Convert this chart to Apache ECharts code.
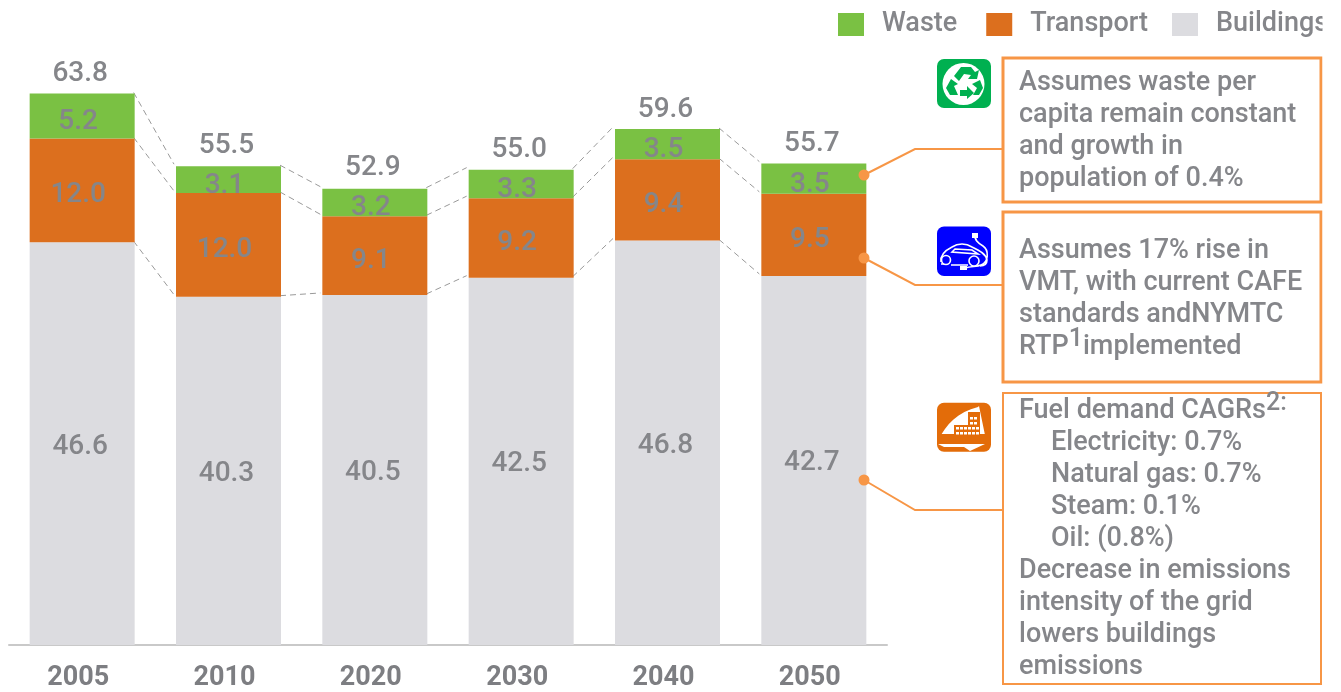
<!DOCTYPE html>
<html><head><meta charset="utf-8">
<style>html,body{margin:0;padding:0;background:#fff}#c{width:1341px;height:692px}</style>
<script src="https://cdn.jsdelivr.net/npm/echarts@6/dist/echarts.min.js"></script></head>
<body><div id="c"></div>
<script>
const categories = ['2005','2010','2020','2030','2040','2050'];
const buildings = [46.6,40.3,40.5,42.5,46.8,42.7];
const transport = [12.0,12.0,9.1,9.2,9.4,9.5];
const waste = [5.2,3.1,3.2,3.3,3.5,3.5];
const totals = [63.8,55.5,52.9,55.0,59.6,55.7];
const wasteNote = ['Assumes waste per','capita remain constant','and growth in','population of 0.4%'];
const transportNote = ['Assumes 17% rise in','VMT, with current CAFE','standards andNYMTC','RTP{s|1}implemented'];
const buildingsNote = ['Fuel demand CAGRs{s|2:}','>Electricity: 0.7%','>Natural gas: 0.7%','>Steam: 0.1%','>Oil: (0.8%)','Decrease in emissions','intensity of the grid','lowers buildings','emissions'];

const FONT='Roboto', TXT='#85868a', ORG='#f79646', BAR=105;
const fmt=v=>v.toFixed(1);
let shapeId=0;
function path(d,z,style){
  const name='icon'+(shapeId++);
  echarts.graphic.registerShape(name,echarts.graphic.extendPath(d,{}));
  return {type:name,z,style};
}
const links=[];
categories.slice(0,-1).forEach((c,i)=>{
  links.push([i,buildings[i],buildings[i+1]]);
  links.push([i,buildings[i]+transport[i],buildings[i+1]+transport[i+1]]);
  links.push([i,buildings[i]+transport[i]+waste[i],buildings[i+1]+transport[i+1]+waste[i+1]]);
});
function seg(name,data,color,off){
  return {name,type:'bar',stack:'a',data,barWidth:BAR,z:3,itemStyle:{color},
    label:{show:true,position:'inside',formatter:p=>fmt(p.value),color:TXT,fontFamily:FONT,fontSize:28,fontWeight:500,offset:off}};
}
function note(lines,y0){
  return lines.map((t,i)=>{
    const ind=t[0]==='>';
    return {type:'text',z:20,x:ind?1051:1019,y:y0+i*32,style:{text:ind?t.slice(1):t,fill:TXT,font:'500 27px '+FONT,verticalAlign:'middle',
      rich:{s:{fontSize:25,fontWeight:500,fontFamily:FONT,fill:TXT,color:TXT,padding:[0,0,14,0]}}}};
  });
}
const box=(y,h,w)=>({type:'rect',z:10,shape:{x:1003,y,width:318,height:h},style:{fill:'none',stroke:ORG,lineWidth:w}});
const lead=(y0,y1)=>[{type:'polyline',z:10,shape:{points:[[864,y0],[915,y1],[1003,y1]]},style:{fill:'none',stroke:ORG,lineWidth:2}},
  {type:'circle',z:11,shape:{cx:864,cy:y0,r:5.5},style:{fill:ORG}}];
const W='#fff';
const recycle=[
 {type:'rect',z:12,shape:{x:937,y:59,width:54,height:49,r:7},style:{fill:'#00b050'}},
 {type:'circle',z:13,shape:{cx:963.5,cy:84,r:21},style:{fill:W}},
 path('M954 76 L961 67 L971 67 L975 72 L979 70 L977 79 L968 79 L971 75 L964 74 L959 81 Z',14,{fill:'#00b050'}),
 path('M951 79 L958 84 L954 86 L958 95 L950 95 L946 88 Z M960 90 L967 90 L967 86 L974 93 L967 99 L967 96 L960 96 Z M972 84 L980 80 L983 88 L979 95 L973 95 L977 88 Z',14,{fill:'#00b050'})
];
const car=[
 {type:'rect',z:12,shape:{x:937,y:226.5,width:54,height:49.5,r:7},style:{fill:'#0000ff'}},
 path('M941 262 C940 255 946 250 952 247 C958 243 966 243 972 247 C980 251 986 254 987 260 C987 264 984 266 980 266 M968 265 L951 265 M941 264 L944 264 M955 249 L972 250 L978 254 L952 252 Z M975 233 C974 240 978 243 983 246 C989 250 989 262 981 265 C977 267 972 266 965 268',13,{fill:'none',stroke:W,lineWidth:1.6}),
 {type:'circle',z:13,shape:{cx:946,cy:260,r:4.5},style:{fill:'#0000ff',stroke:W,lineWidth:1.6}},
 {type:'circle',z:13,shape:{cx:974,cy:261,r:5},style:{fill:'#0000ff',stroke:W,lineWidth:1.6}},
 {type:'rect',z:13,shape:{x:972,y:233,width:6,height:5},style:{fill:W}},
 {type:'rect',z:13,shape:{x:960,y:266,width:7,height:4},style:{fill:W}}
];
const winds=[];
[[957,428],[961,428],[965,428],[969,428],[973,428],[977,428],[957,433],[961,433],[965,433],[969,433],[973,433],[977,433],[971,418],[975,418],[971,423],[975,423]].forEach(p=>winds.push({type:'rect',z:15,shape:{x:p[0]-1,y:p[1]-1,width:3,height:2.5},style:{fill:W}}));
const building=[
 {type:'rect',z:12,shape:{x:937,y:402.7,width:54,height:49,r:7},style:{fill:'#e36c09'}},
 path('M938 441 C946 424 958 412 978 407 L979 406 L986 440 Z M938 444 L985 444 L970 451 L964 447 L944 447 Z',13,{fill:W}),
 {type:'rect',z:14,shape:{x:968,y:412,width:12,height:24},style:{fill:'#e36c09'}},
 {type:'rect',z:14,shape:{x:954,y:425,width:26,height:14},style:{fill:'#e36c09'}},
 {type:'rect',z:14,shape:{x:938,y:434,width:48,height:7},style:{fill:'#e36c09'}},
 ...winds
];
const legendBase={top:11,width:800,padding:0,itemWidth:26,itemHeight:23,itemGap:29,icon:'rect',
    textStyle:{color:TXT,fontFamily:FONT,fontSize:27,fontWeight:500,padding:[0,0,0,13]}};
const chart=echarts.init(document.getElementById('c'),null,{renderer:'canvas'});
chart.setOption({
  animation:false,
  legend:[{...legendBase,data:['Waste','Transport'],left:838},{...legendBase,data:['Buildings'],left:1172}],
  grid:{left:9,right:454,top:40,bottom:47,outerBoundsMode:'none'},
  xAxis:{type:'category',data:categories,axisTick:{show:false},
    axisLine:{lineStyle:{color:'#c9c9c9',width:2}},
    axisLabel:{color:'#7d7e82',fontFamily:FONT,fontSize:27,fontWeight:'bold',margin:20,align:'center',padding:[0,8,0,0]}},
  yAxis:{type:'value',min:0,max:70,show:false,splitLine:{show:false}},
  series:[
    seg('Buildings',buildings,'#dcdce0',[-2,3]),
    seg('Transport',transport,'#dc6f1e',[-4,5]),
    seg('Waste',waste,'#7ac143',[-4,6]),
    {name:'Total',type:'line',data:totals,symbol:'circle',symbolSize:1,itemStyle:{color:'transparent'},lineStyle:{opacity:0},z:4,
      label:{show:true,position:'top',distance:5,offset:[-2,0],formatter:p=>fmt(p.value),color:TXT,fontFamily:FONT,fontSize:28,fontWeight:500}},
    {type:'custom',z:2,data:links,encode:{x:0,y:[1,2]},silent:true,
      renderItem:(params,api)=>{
        const i=api.value(0),a=api.coord([i,api.value(1)]),b=api.coord([i+1,api.value(2)]);
        return {type:'line',shape:{x1:a[0]+BAR/2-1,y1:a[1]-1,x2:b[0]-BAR/2-2,y2:b[1]-2},
          style:{stroke:'#999',lineWidth:1,lineDash:[6,4]}};
      }}
  ],
  graphic:[
    box(58,144,3),box(212,170,3),box(393,291,2),
    ...lead(175,149),...lead(258,285),...lead(480,510),
    ...recycle,...car,...building,
    ...note(wasteNote,83),...note(transportNote,251),...note(buildingsNote,411),
    {type:'rect',z:50,shape:{x:1322.5,y:0,width:19,height:692},style:{fill:'#fff'}}
  ]
});
</script></body></html>
